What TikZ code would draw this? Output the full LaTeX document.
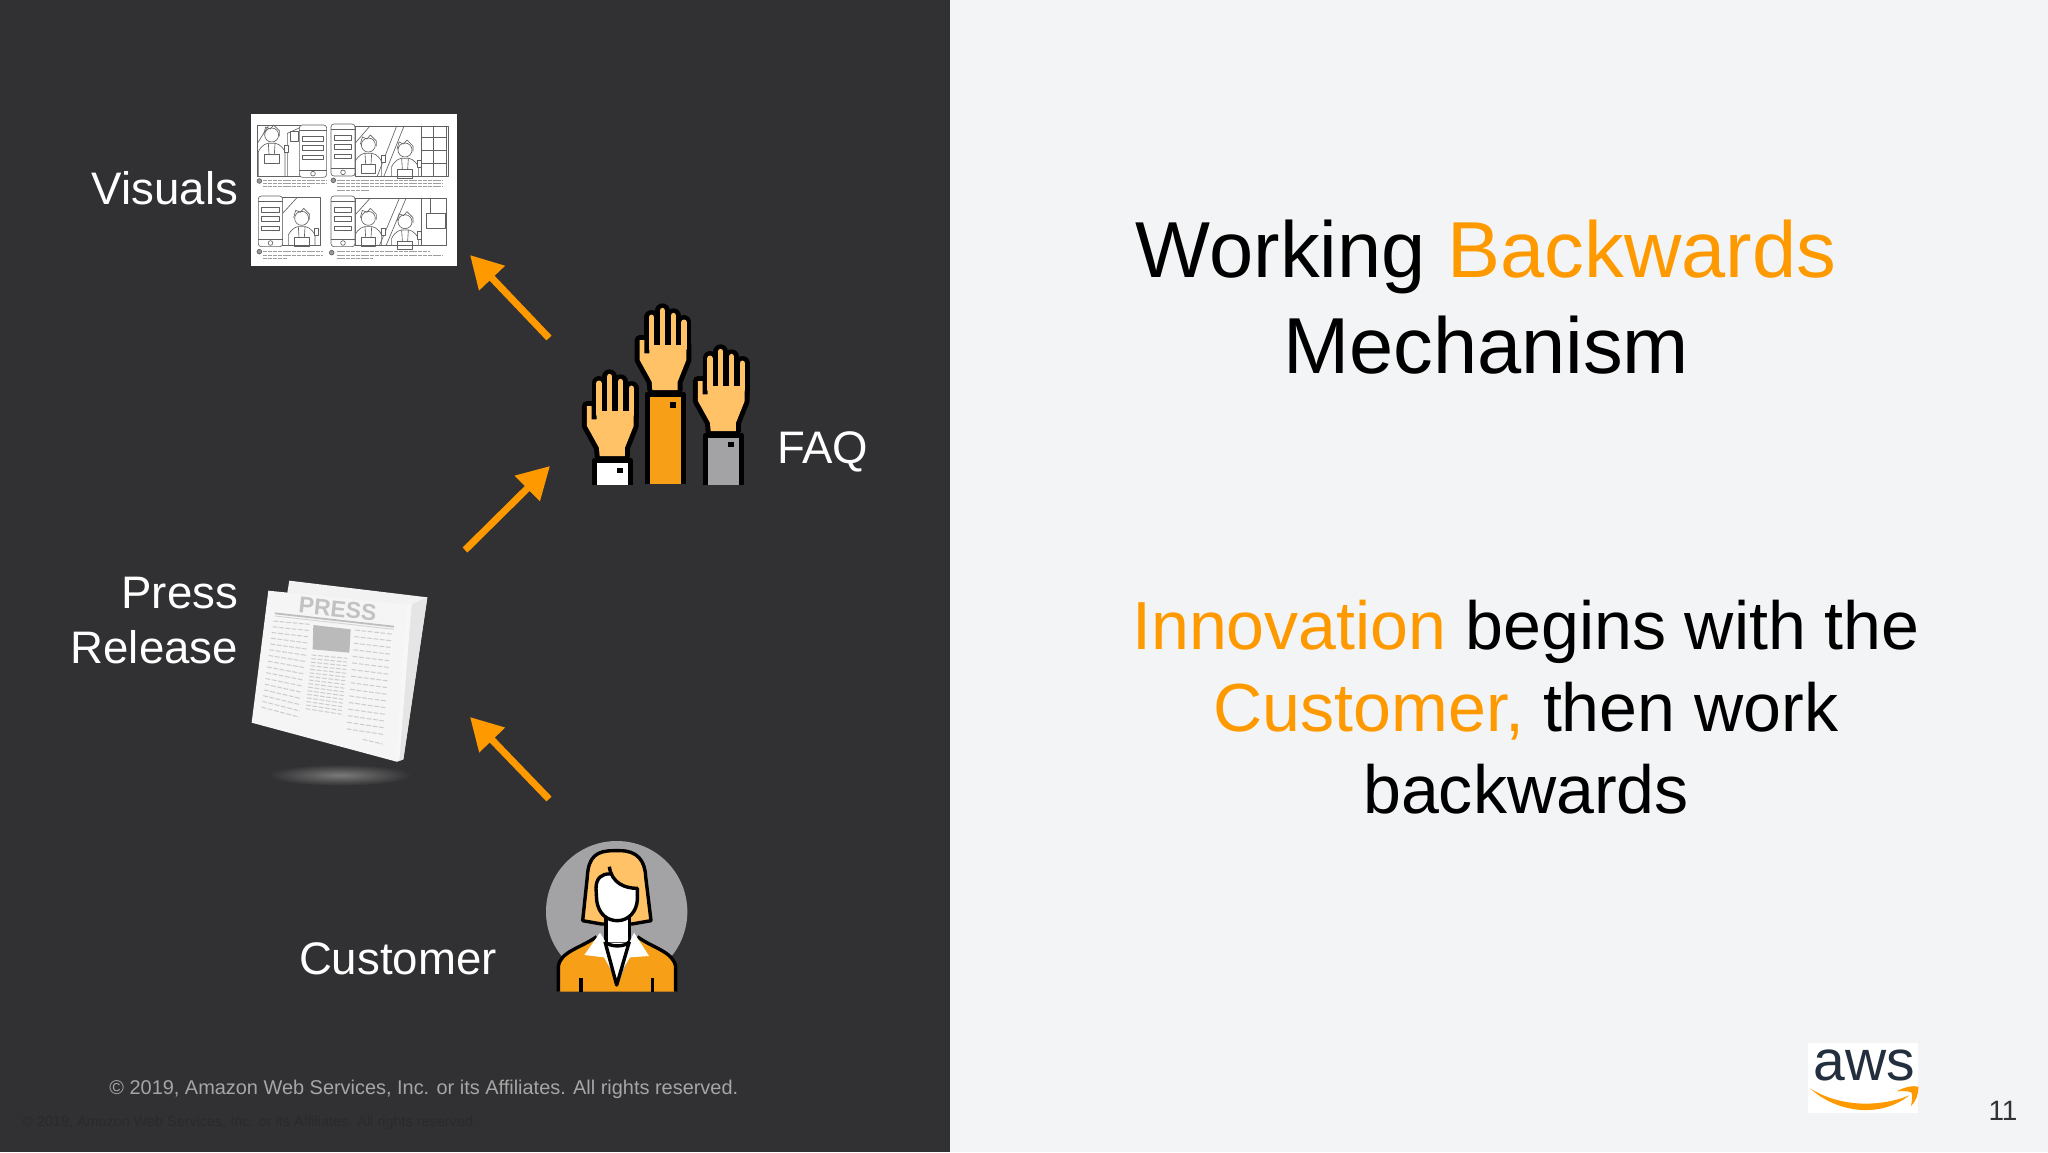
\documentclass[tikz,border=0pt]{standalone}
\usepackage{fontspec}
\setmainfont{Liberation Sans}
\usetikzlibrary{arrows.meta,calc}
\definecolor{panelbg}{HTML}{313133}
\definecolor{slidebg}{HTML}{F3F4F5}
\definecolor{awsorange}{HTML}{FF9900}
\definecolor{sleeveorange}{HTML}{F79F16}
\definecolor{skin}{HTML}{FFC266}
\definecolor{sleevegray}{HTML}{A3A3A5}
\definecolor{awsink}{HTML}{232F3E}
\tikzstyle{darktext}=[inner sep=0pt,outer sep=0pt,text=white,font=\fontsize{22.8}{27.5}\selectfont]
\tikzstyle{titletext}=[inner sep=0pt,outer sep=0pt,align=center,font=\fontsize{39.7}{48}\selectfont]
\tikzstyle{bodytext}=[inner sep=0pt,outer sep=0pt,align=center,font=\fontsize{34.05}{41}\selectfont]
\tikzstyle{flow}=[draw=awsorange,line width=3.5pt,-{Triangle[length=16pt,width=17pt]}]
\tikzstyle{sketch}=[draw=black!62,line width=0.32pt,line join=round]
\tikzstyle{caption}=[draw=black!38,line width=0.5pt,dash pattern=on 2pt off 0.4pt]
\tikzstyle{inkline}=[draw=black,line width=1.7pt,line join=round]
\tikzstyle{newsline}=[draw=black!20,line width=0.5pt,dash pattern=on 2.4pt off 0.8pt]
% one raised hand, wrist at #1,#2
\newcommand{\drawhand}[5]{
  \begin{scope}[shift={(#1,#2)},x=0.16667pt,y=0.16667pt]
    \foreach \fx/\ftop in {-40/218,-8/238,25/223,57/203}
      \draw[black,line width=7.3pt,line cap=round] (\fx,120) -- (\fx,\ftop);
    \fill[skin,preaction={draw=black,line width=5pt,line join=round}]
      (-38,0) -- (-40,25) -- (-76,90) -- (-76,150) -- (-62,150) -- (-62,110) -- (-47,110)
      -- (-47,135) -- (64,135) -- (64,90) -- (38,25) -- (38,0) -- cycle;
    \foreach \fx/\ftop in {-40/218,-8/238,25/223,57/203}
      \draw[skin,line width=2.8pt,line cap=round] (\fx,125) -- (\fx,\ftop);
    \fill[#3] (-48,-16) rectangle (48,-#4);
    \draw[black,line width=2.5pt,line join=round] (-54,-#4) -- (-54,-12) -- (54,-12) -- (54,-#4);
    \fill[black] (14,-#5-8) rectangle (32,-#5+8);
  \end{scope}
}
\newcommand{\sketchphone}[4]{
  \draw[sketch,fill=white,rounded corners=1.5pt] (#1,#2) rectangle (#3,#4);
  \draw[sketch] (#1,#2+16) -- (#3,#2+16) (#1,#4-22) -- (#3,#4-22);
  \draw[sketch] ({(#1+#3)/2},#4-11) circle[radius=7];
  \foreach \r in {34,62,90}
    \draw[sketch] (#1+10,#2+\r) rectangle (#3-10,#2+\r+14);
}
\newcommand{\sketchperson}[3]{
  \draw[sketch] (#1,#2) circle[radius=21];
  \draw[sketch] (#1-24,#2-2) -- (#1-18,#2-24) -- (#1-4,#2-18) -- (#1+6,#2-30) -- (#1+24,#2-12) -- (#1+24,#2+4);
  \draw[sketch] (#1-40,#3) -- (#1-40,#2+50) .. controls (#1-30,#2+30) and (#1-15,#2+22) .. (#1,#2+25)
    .. controls (#1+15,#2+22) and (#1+30,#2+30) .. (#1+40,#2+50) -- (#1+40,#3);
  \draw[sketch] (#1-22,#2+58) rectangle (#1+22,#2+84);
  \draw[sketch] (#1-10,#2+25) -- (#1-8,#2+58) (#1+10,#2+25) -- (#1+8,#2+58);
  \draw[sketch,fill=white] (#1+38,#2+30) rectangle (#1+50,#2+52);
}
\begin{document}
\begin{tikzpicture}[x=0.5pt,y=-0.5pt]
\useasboundingbox (0,0) rectangle (2048,1152);
\fill[slidebg] (0,0) rectangle (2048,1152);
\fill[panelbg] (0,0) rectangle (950,1152);

\node[darktext,anchor=east] (visuals) at (238,188) {Visuals};
\node[darktext,anchor=west] (faq) at (777,452) {FAQ};
\node[darktext,anchor=east,align=right] (press) at (238,621) {Press\\Release};
\node[darktext,anchor=west] (customer) at (299,959) {Customer};

\node[titletext] (title) at (1486,297) {Working \textcolor{awsorange}{Backwards}\\Mechanism};
\node[bodytext] (body) at (1526,707) {\textcolor{awsorange}{Innovation} begins with the\\\textcolor{awsorange}{Customer,} then work\\backwards};

% arrows
\coordinate (faqout) at (549,338);
\coordinate (visualsin) at (470,255);
\coordinate (pressout) at (465,550);
\coordinate (faqin) at (550,466);
\coordinate (customerout) at (549,799);
\coordinate (pressin) at (470,717);
\draw[flow] (faqout) -- (visualsin);
\draw[flow] (pressout) -- (faqin);
\draw[flow] (customerout) -- (pressin);

% storyboard
\begin{scope}[shift={(230,100)},x=0.16667pt,y=-0.16667pt]
  \fill[white] (63,43) rectangle (680,498);
  \draw[sketch] (82,75) rectangle (212,228);
  \draw[sketch] (82,130) -- (115,78) (172,228) -- (172,100) -- (212,82);
  \draw[sketch] (180,95) rectangle (205,125);
  \sketchperson{125}{105}{228}
  \sketchphone{208}{75}{290}{232}
  \draw[sketch] (375,78) rectangle (655,228);
  \draw[sketch] (375,130) -- (420,78) (500,78) -- (442,228) (522,78) -- (462,228);
  \sketchperson{415}{135}{228}
  \sketchperson{525}{150}{228}
  \foreach \sx in {575,610,650} \draw[sketch] (\sx,78) -- (\sx,228);
  \foreach \sy in {112,150,190} \draw[sketch] (575,\sy) -- (650,\sy);
  \sketchphone{303}{72}{375}{228}
  \draw[sketch] (158,292) rectangle (272,437);
  \draw[sketch] (158,340) -- (200,294);
  \sketchperson{215}{355}{437}
  \sketchphone{85}{288}{158}{440}
  \draw[sketch] (375,295) rectangle (650,437);
  \draw[sketch] (375,345) -- (420,295) (508,295) -- (448,437) (528,295) -- (468,437);
  \sketchperson{415}{355}{437}
  \sketchperson{525}{365}{437}
  \draw[sketch,fill=white] (590,340) rectangle (645,385);
  \draw[sketch] (575,295) -- (575,437) (600,295) -- (600,340);
  \sketchphone{303}{288}{375}{440}
  \foreach \cx/\cy/\cr in {88/243/7,310/241/7,88/455/7,305/458/7}
    \draw[sketch,fill=black!40] (\cx,\cy) circle[radius=\cr];
  \foreach \cy/\ca/\cb in {240/100/290,250/100/290,260/100/240,
                           240/320/640,250/320/640,260/320/640,270/320/420,
                           455/100/280,465/100/280,475/100/170,
                           455/320/600,465/320/640,475/320/430}
    \draw[caption] (\ca,\cy) -- (\cb,\cy);
\end{scope}

% newspaper
\begin{scope}[shift={(240,560)},x=0.16667pt,y=-0.16667pt]
  \shade[inner color=black!52,outer color=panelbg] (300,645) ellipse[x radius=215,y radius=32];
  \fill[black!5] (148,62) -- (562,112) -- (490,598) -- (470,605) -- (140,110) -- cycle;
  \fill[white!96!black] (85,92) -- (510,135) -- (470,605) -- (35,488) -- cycle;
  \fill[black!10] (510,135) -- (562,112) -- (490,598) -- (472,605) -- cycle;
  \fill[black!3] (500,134) -- (515,130) -- (478,600) -- (466,603) -- cycle;
  \node[inner sep=0pt,rotate=-6,text=black!24,font=\fontsize{11.5}{12}\bfseries\selectfont] (pressword) at (293,147) {PRESS};
  \draw[black!25,line width=0.9pt] (105,160) -- (462,200);
  \draw[black!18,line width=0.4pt] (105,168) -- (462,208);
  \fill[black!27] (220,195) -- (332,208) -- (328,278) -- (218,268) -- cycle;
  \foreach \ax/\ay/\bx/\by/\cx/\cy/\dx/\dy in {100/183/208/193/65/440/178/470,
                                               215/285/322/295/197/445/305/462,
                                               345/210/455/222/320/505/432/522}
    \foreach \t in {0,0.067,...,1.01}
      \draw[newsline] ($(\ax,\ay)!\t!(\cx,\cy)$) -- ($(\bx,\by)!\t!(\dx,\dy)$);
  \draw[newsline] (368,538) -- (428,552);
\end{scope}

% raised hands
\drawhand{665}{390}{sleeveorange}{282}{45}
\drawhand{612.3}{456}{white}{87}{44}
\drawhand{723.3}{431}{sleevegray}{162}{41}

% customer
\begin{scope}[shift={(530,820)},x=0.16667pt,y=-0.16667pt]
  \begin{scope}
    \clip (0,62) rectangle (540,570);
    \fill[sleevegray] (260,275) circle[radius=212];
  \end{scope}
  \draw[inkline,fill=skin] (158,302) -- (172,170) .. controls (175,110) and (200,92) .. (250,92) -- (270,92)
    .. controls (320,92) and (345,120) .. (347,170) -- (363,302) -- (305,312) -- (215,312) -- cycle;
  \draw[inkline,fill=white] (228,290) -- (228,370) -- (298,370) -- (298,290) -- cycle;
  \draw[inkline,fill=white] (240,162) .. controls (215,160) and (198,175) .. (198,205) -- (200,240)
    .. controls (205,285) and (235,302) .. (262,302) .. controls (295,302) and (320,275) .. (322,240)
    -- (322,205) .. controls (285,205) and (245,190) .. (238,140);
  \fill[sleeveorange] (85,515) -- (85,440) .. controls (90,395) and (150,385) .. (200,350)
    -- (262,500) -- (322,350) .. controls (370,385) and (430,395) .. (437,440) -- (437,515) -- cycle;
  \draw[inkline] (85,515) -- (85,440) .. controls (90,395) and (150,385) .. (200,350)
    (322,350) .. controls (370,385) and (430,395) .. (437,440) -- (437,515);
  \fill[white] (210,338) -- (163,405) -- (222,412) -- (260,478) -- (300,412) -- (357,408) -- (312,338)
    -- (298,368) -- (228,368) -- cycle;
  \draw[inkline] (225,365) .. controls (240,382) and (285,382) .. (298,365);
  \draw[inkline] (225,365) -- (260,495) -- (298,365);
  \draw[inkline] (153,475) -- (153,515) (367,475) -- (367,515);
\end{scope}

% logo
\begin{scope}[shift={(1780,1020)},x=0.16667pt,y=-0.16667pt]
  \fill[white] (85,70) rectangle (415,278);
  \node[inner sep=0pt,text=awsink,font=\fontsize{28.5}{30}\selectfont] (awsword) at (252,136) {aws};
  \fill[awsorange] (90,205) .. controls (170,278) and (300,296) .. (388,226)
    .. controls (300,262) and (180,262) .. (90,205) -- cycle;
  \fill[awsorange] (350,214) .. controls (375,200) and (400,196) .. (415,200)
    .. controls (417,220) and (407,245) .. (393,258) .. controls (396,240) and (398,226) .. (394,217)
    .. controls (385,213) and (368,213) .. (350,214) -- cycle;
\end{scope}

\node[inner sep=0pt,text=black!80,font=\fontsize{14}{16}\selectfont] (pagenum) at (2003,1111) {11};
\node[inner sep=0pt,anchor=west,text=black!35,font=\fontsize{9.96}{12}\selectfont] (copyright) at (109,1089) {© 2019, Amazon Web Services, Inc. or its Affiliates. All rights reserved.};
\node[inner sep=0pt,anchor=west,text=panelbg!85!black,font=\fontsize{7.2}{9}\selectfont] (ghostline) at (22,1123) {© 2019, Amazon Web Services, Inc. or its Affiliates. All rights reserved.};
\end{tikzpicture}
\end{document}
